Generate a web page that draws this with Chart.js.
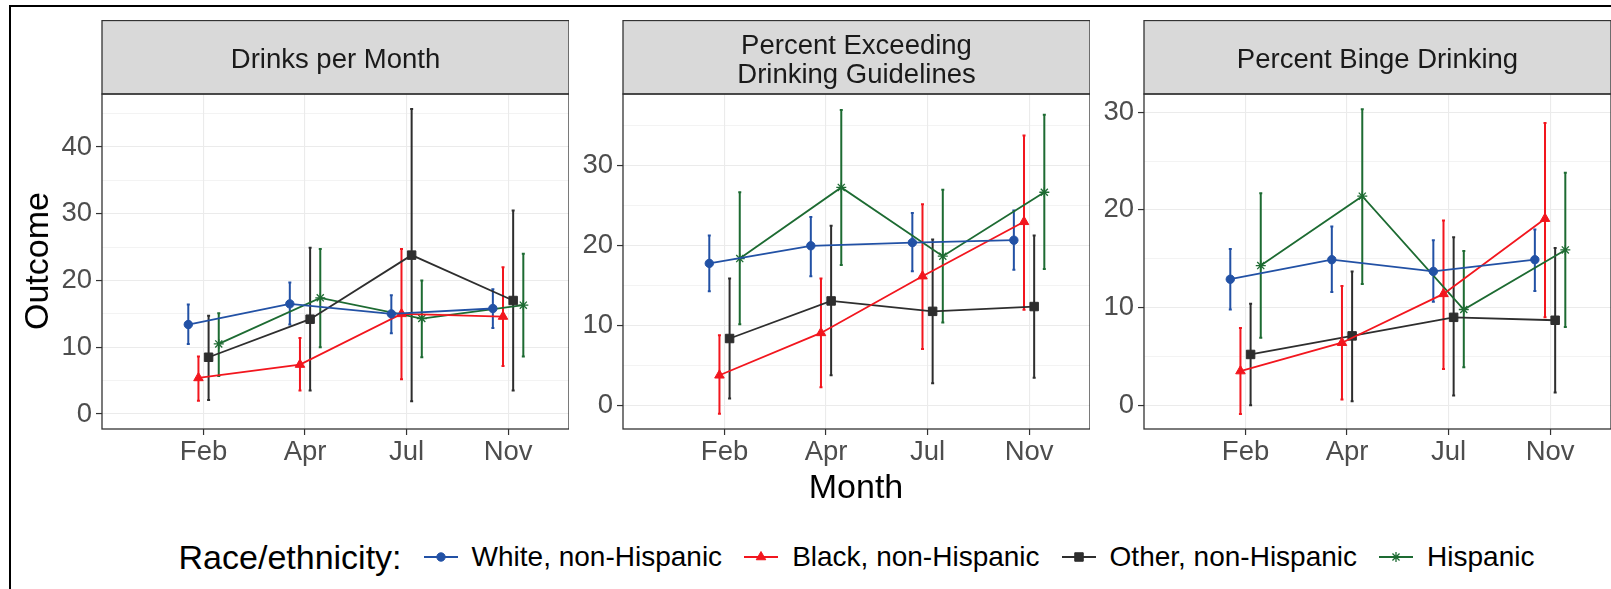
<!DOCTYPE html>
<html>
<head>
<meta charset="utf-8">
<title>Drinking outcomes by race/ethnicity</title>
<script src="https://cdn.jsdelivr.net/npm/chart.js@4.4.1/dist/chart.umd.min.js"></script>
<style>
  html, body { margin: 0; padding: 0; background: #fff; width: 1611px; height: 589px; overflow: hidden; }
  body { position: relative; font-family: "Liberation Sans", Arial, sans-serif; }
  #frame { position: absolute; left: 9px; top: 5px; width: 1700px; height: 700px;
           border-left: 2px solid #000; border-top: 2px solid #000; }
  canvas.facet { position: absolute; }
  .axis-title { position: absolute; font-size: 34px; color: #000; white-space: nowrap;
                transform: translate(-50%, -50%); line-height: 1; }
  #ytitle { transform: translate(-50%, -50%) rotate(-90deg); }
  #legend { position: absolute; left: 102px; width: 1509px; top: 537px; height: 40px;
            display: flex; justify-content: center; align-items: center; white-space: nowrap; }
  #legend .ltitle { font-size: 34px; color: #000; margin-right: 22px; }
  #legend .lkey { width: 34px; height: 30px; margin-right: 14px; }
  #legend .ltext { font-size: 28px; color: #000; margin-right: 22px; }
  #legend .ltext:last-child { margin-right: 0; }
</style>
</head>
<body>
<div id="frame"></div>
<canvas class="facet" id="facet0"></canvas>
<canvas class="facet" id="facet1"></canvas>
<canvas class="facet" id="facet2"></canvas>
<div class="axis-title" id="ytitle" style="left:36px; top:261px;"></div>
<div class="axis-title" id="xtitle" style="left:856px; top:486px;"></div>
<div id="legend"></div>

<script>
// ---- categories and labels ----
const months = ['Feb', 'Apr', 'Jul', 'Nov'];
const groups = ['White, non-Hispanic', 'Black, non-Hispanic', 'Other, non-Hispanic', 'Hispanic'];
const facetTitles = [['Drinks per Month'], ['Percent Exceeding', 'Drinking Guidelines'], ['Percent Binge Drinking']];
const legendTitle = 'Race/ethnicity:';
const xTitle = 'Month';
const yTitle = 'Outcome';

// ---- y tick labels per facet ----
const drinksTicks = [0, 10, 20, 30, 40];
const exceedTicks = [0, 10, 20, 30];
const bingeTicks = [0, 10, 20, 30];

// ---- Drinks per Month: estimate, lower and upper bound ----
const drinksWhite = [13.4, 16.5, 15.0, 15.8];
const drinksWhiteLow = [10.5, 13.4, 12.1, 12.9];
const drinksWhiteHigh = [16.4, 19.7, 17.8, 18.7];
const drinksBlack = [5.4, 7.4, 15.0, 14.6];
const drinksBlackLow = [2.0, 3.5, 5.2, 7.2];
const drinksBlackHigh = [8.6, 11.4, 24.7, 22.0];
const drinksOther = [8.5, 14.2, 23.8, 17.0];
const drinksOtherLow = [2.1, 3.5, 1.9, 3.5];
const drinksOtherHigh = [14.7, 24.9, 45.7, 30.5];
const drinksHispanic = [10.5, 17.4, 14.3, 16.3];
const drinksHispanicLow = [5.7, 10.0, 8.5, 8.6];
const drinksHispanicHigh = [15.1, 24.7, 20.0, 24.0];

// ---- Percent Exceeding Drinking Guidelines ----
const exceedWhite = [17.8, 20.0, 20.4, 20.7];
const exceedWhiteLow = [14.3, 16.2, 16.8, 17.0];
const exceedWhiteHigh = [21.3, 23.6, 24.1, 24.4];
const exceedBlack = [3.8, 9.1, 16.2, 23.0];
const exceedBlackLow = [-1.0, 2.3, 7.1, 12.0];
const exceedBlackHigh = [8.8, 15.9, 25.2, 33.8];
const exceedOther = [8.4, 13.1, 11.8, 12.4];
const exceedOtherLow = [0.9, 3.8, 2.8, 3.5];
const exceedOtherHigh = [15.9, 22.5, 20.8, 21.3];
const exceedHispanic = [18.4, 27.3, 18.7, 26.7];
const exceedHispanicLow = [10.2, 17.6, 10.4, 17.1];
const exceedHispanicHigh = [26.7, 37.0, 27.0, 36.4];

// ---- Percent Binge Drinking ----
const bingeWhite = [12.9, 14.9, 13.7, 14.9];
const bingeWhiteLow = [9.8, 11.6, 10.6, 11.7];
const bingeWhiteHigh = [16.0, 18.3, 16.9, 18.0];
const bingeBlack = [3.5, 6.4, 11.4, 19.1];
const bingeBlackLow = [-0.9, 0.6, 3.7, 9.0];
const bingeBlackHigh = [7.9, 12.2, 18.9, 28.9];
const bingeOther = [5.2, 7.1, 9.0, 8.7];
const bingeOtherLow = [0.0, 0.4, 1.0, 1.3];
const bingeOtherHigh = [10.4, 13.7, 17.2, 16.1];
const bingeHispanic = [14.3, 21.4, 9.8, 15.9];
const bingeHispanicLow = [6.9, 12.4, 3.9, 8.0];
const bingeHispanicHigh = [21.7, 30.3, 15.8, 23.8];

// ---- styling ----
const FONT = '"Liberation Sans", Arial, sans-serif';
const groupColors = ['#2251A5', '#F2161E', '#2E2E2E', '#1D6B32'];
const groupShapes = ['circle', 'triangle', 'rect', 'star'];
const groupRadius = [4.2, 5.5, 6, 5];
const dodge = [-0.15, -0.05, 0.05, 0.15];   // horizontal dodge of the four groups

// ---- facet geometry ----
const AXIS_W = 80;        // room for y tick marks and labels
const X_AXIS_H = 50;      // room for x tick marks and labels
const STRIP_H = 74;       // facet strip height
const CANVAS_TOP = 20;
const PANEL_BOTTOM = 429;
const PANEL_W = 467;
const panelLefts = [102, 623, 1144];
const yRanges = [[-2.25, 47.94], [-2.92, 38.99], [-2.43, 31.86]];

const facets = [
  { ticks: drinksTicks,
    series: [[drinksWhite, drinksWhiteLow, drinksWhiteHigh], [drinksBlack, drinksBlackLow, drinksBlackHigh],
             [drinksOther, drinksOtherLow, drinksOtherHigh], [drinksHispanic, drinksHispanicLow, drinksHispanicHigh]] },
  { ticks: exceedTicks,
    series: [[exceedWhite, exceedWhiteLow, exceedWhiteHigh], [exceedBlack, exceedBlackLow, exceedBlackHigh],
             [exceedOther, exceedOtherLow, exceedOtherHigh], [exceedHispanic, exceedHispanicLow, exceedHispanicHigh]] },
  { ticks: bingeTicks,
    series: [[bingeWhite, bingeWhiteLow, bingeWhiteHigh], [bingeBlack, bingeBlackLow, bingeBlackHigh],
             [bingeOther, bingeOtherLow, bingeOtherHigh], [bingeHispanic, bingeHispanicLow, bingeHispanicHigh]] }
];

// Vertical interval for each point, drawn beneath lines and markers
const errorBarPlugin = {
  id: 'errorBars',
  beforeDatasetsDraw(chart) {
    const ctx = chart.ctx;
    const ys = chart.scales.y;
    ctx.save();
    chart.data.datasets.forEach((ds, di) => {
      const meta = chart.getDatasetMeta(di);
      ctx.strokeStyle = ds.borderColor;
      ctx.lineWidth = 2;
      meta.data.forEach((pt, i) => {
        const d = ds.data[i];
        const yl = ys.getPixelForValue(d.lo);
        const yh = ys.getPixelForValue(d.hi);
        ctx.beginPath();
        ctx.moveTo(pt.x, yl); ctx.lineTo(pt.x, yh);
        ctx.moveTo(pt.x - 1.5, yl); ctx.lineTo(pt.x + 1.5, yl);
        ctx.moveTo(pt.x - 1.5, yh); ctx.lineTo(pt.x + 1.5, yh);
        ctx.stroke();
      });
    });
    ctx.restore();
  }
};

// Grey facet strip with its title, plus the panel frame
const stripPlugin = {
  id: 'facetStrip',
  afterDraw(chart, args, opts) {
    const ctx = chart.ctx;
    const a = chart.chartArea;
    const top = a.top - STRIP_H + 0.5;
    const w = a.right - a.left;
    ctx.save();
    ctx.fillStyle = '#D9D9D9';
    ctx.fillRect(a.left, top, w, a.top - top);
    ctx.strokeStyle = '#333333';
    ctx.lineWidth = 1.3;
    ctx.strokeRect(a.left, top, w, a.top - top);
    ctx.strokeRect(a.left, a.top, w, a.bottom - a.top);
    ctx.fillStyle = '#1A1A1A';
    ctx.font = '27.5px ' + FONT;
    ctx.textAlign = 'center';
    ctx.textBaseline = 'middle';
    const lines = opts.lines || [];
    const lh = 28.5;
    const cy = (top + a.top) / 2 + 3.5;
    lines.forEach((t, i) => ctx.fillText(t, (a.left + a.right) / 2, cy + (i - (lines.length - 1) / 2) * lh));
    ctx.restore();
  }
};

function buildFacet(fi) {
  const f = facets[fi];
  const canvas = document.getElementById('facet' + fi);
  const cw = AXIS_W + PANEL_W;
  const ch = PANEL_BOTTOM - CANVAS_TOP + X_AXIS_H;
  canvas.width = cw; canvas.height = ch;
  canvas.style.left = (panelLefts[fi] - AXIS_W) + 'px';
  canvas.style.top = CANVAS_TOP + 'px';
  canvas.style.width = cw + 'px';
  canvas.style.height = ch + 'px';

  const [yMin, yMax] = yRanges[fi];
  const gridVals = [];
  f.ticks.forEach(v => { gridVals.push(v); if (v + 5 <= yMax) gridVals.push(v + 5); });
  const isMajor = v => f.ticks.includes(v);

  const datasets = groups.map((g, gi) => {
    const [est, lo, hi] = f.series[gi];
    return {
      label: g,
      data: months.map((m, i) => ({ x: i + 1 + dodge[gi], y: est[i], lo: lo[i], hi: hi[i] })),
      borderColor: groupColors[gi],
      backgroundColor: groupColors[gi],
      borderWidth: 1.8,
      pointStyle: groupShapes[gi],
      pointRadius: groupRadius[gi],
      pointBorderWidth: gi === 3 ? 1.3 : 1,
      pointBorderColor: groupColors[gi],
      pointBackgroundColor: groupColors[gi],
      tension: 0,
      fill: false
    };
  });

  return new Chart(canvas, {
    type: 'line',
    data: { datasets },
    plugins: [errorBarPlugin, stripPlugin],
    options: {
      responsive: false,
      animation: false,
      devicePixelRatio: 1,
      layout: { padding: { top: STRIP_H, left: 0, right: 0, bottom: 0 }, autoPadding: false },
      plugins: {
        legend: { display: false },
        tooltip: { enabled: false },
        facetStrip: { lines: facetTitles[fi] }
      },
      scales: {
        x: {
          type: 'linear',
          min: 0, max: 4.6,
          afterBuildTicks: s => { s.ticks = months.map((m, i) => ({ value: i + 1 })); },
          afterFit: s => { s.height = X_AXIS_H; },
          border: { display: false },
          grid: { color: '#EBEBEB', lineWidth: 1.1, tickColor: '#333333', tickLength: 6, tickWidth: 1.2 },
          ticks: {
            autoSkip: false, maxRotation: 0, padding: 1,
            color: '#4D4D4D', font: { family: FONT, size: 27.5 },
            callback: v => months[Math.round(v) - 1]
          }
        },
        y: {
          type: 'linear',
          min: yMin, max: yMax,
          afterBuildTicks: s => { s.ticks = gridVals.slice().sort((a, b) => a - b).map(v => ({ value: v })); },
          afterFit: s => { s.width = AXIS_W; },
          border: { display: false },
          grid: {
            color: '#EBEBEB',
            lineWidth: c => (c.tick && isMajor(c.tick.value)) ? 1.1 : 0.6,
            tickColor: c => (c.tick && isMajor(c.tick.value)) ? '#333333' : 'rgba(0,0,0,0)',
            tickLength: 6, tickWidth: 1.2
          },
          ticks: {
            autoSkip: false, padding: 4,
            color: '#4D4D4D', font: { family: FONT, size: 27.5 },
            callback: v => isMajor(v) ? String(v) : ''
          }
        }
      }
    }
  });
}

facets.forEach((f, i) => buildFacet(i));

document.getElementById('ytitle').textContent = yTitle;
document.getElementById('xtitle').textContent = xTitle;

// Legend row: title, then a line-and-marker key for each group
(function buildLegend() {
  const lg = document.getElementById('legend');
  const t = document.createElement('span');
  t.className = 'ltitle';
  t.textContent = legendTitle;
  lg.appendChild(t);
  groups.forEach((g, gi) => {
    const c = document.createElement('canvas');
    c.className = 'lkey';
    c.width = 34; c.height = 30;
    const ctx = c.getContext('2d');
    ctx.strokeStyle = groupColors[gi];
    ctx.fillStyle = groupColors[gi];
    ctx.lineWidth = 1.8;
    ctx.beginPath(); ctx.moveTo(0, 15); ctx.lineTo(34, 15); ctx.stroke();
    ctx.lineWidth = gi === 3 ? 1.3 : 1;
    Chart.helpers.drawPoint(ctx, { pointStyle: groupShapes[gi], radius: groupRadius[gi], rotation: 0, borderWidth: 1 }, 17, 15);
    lg.appendChild(c);
    const s = document.createElement('span');
    s.className = 'ltext';
    s.textContent = g;
    lg.appendChild(s);
  });
})();
</script>
</body>
</html>
